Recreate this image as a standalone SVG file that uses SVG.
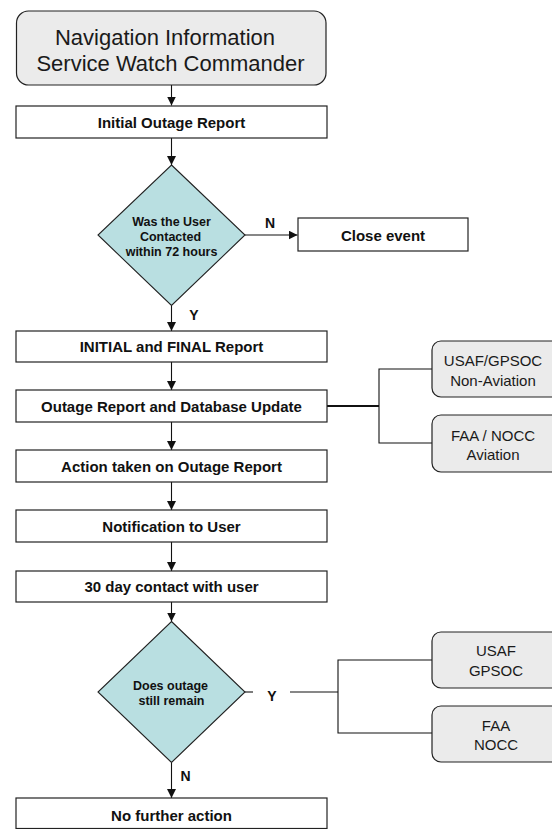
<svg xmlns="http://www.w3.org/2000/svg" width="552" height="829" viewBox="0 0 552 829">
<style>
  .box { fill: #ffffff; stroke: #222222; stroke-width: 1.2; }
  .gbox { fill: #ebebeb; stroke: #222222; stroke-width: 1.2; }
  .dia { fill: #b9dfe1; stroke: #222222; stroke-width: 1.1; }
  .bt { font-family: "Liberation Sans", Arial, sans-serif; font-weight: bold; font-size: 15px; fill: #111111; text-anchor: middle; }
  .dt { font-family: "Liberation Sans", Arial, sans-serif; font-weight: bold; font-size: 12.5px; fill: #111111; text-anchor: middle; }
  .gt { font-family: "Liberation Sans", Arial, sans-serif; font-size: 15px; fill: #1a1a1a; text-anchor: middle; }
  .tt { font-family: "Liberation Sans", Arial, sans-serif; font-size: 22px; fill: #1a1a1a; text-anchor: middle; }
  .lb { font-family: "Liberation Sans", Arial, sans-serif; font-weight: bold; font-size: 14px; fill: #111111; text-anchor: middle; }
  .ln { fill: none; stroke: #111111; stroke-width: 1.1; }
</style>
<defs>
  <marker id="ah" markerUnits="userSpaceOnUse" markerWidth="10" markerHeight="10" refX="9" refY="4.5" orient="auto">
    <path d="M0,0 L9,4.5 L0,9 z" fill="#111111"/>
  </marker>
</defs>

<g id="connectors">
  <line class="ln" x1="171.5" y1="85" x2="171.5" y2="105.5" marker-end="url(#ah)"/>
  <line class="ln" x1="171.5" y1="138" x2="171.5" y2="165" marker-end="url(#ah)"/>
  <line class="ln" x1="245" y1="235" x2="297.5" y2="235" marker-end="url(#ah)"/>
  <line class="ln" x1="171.5" y1="305.5" x2="171.5" y2="331" marker-end="url(#ah)"/>
  <line class="ln" x1="171.5" y1="362" x2="171.5" y2="390" marker-end="url(#ah)"/>
  <line class="ln" x1="171.5" y1="422" x2="171.5" y2="450" marker-end="url(#ah)"/>
  <line class="ln" x1="171.5" y1="482" x2="171.5" y2="510" marker-end="url(#ah)"/>
  <line class="ln" x1="171.5" y1="542" x2="171.5" y2="571" marker-end="url(#ah)"/>
  <line class="ln" x1="171.5" y1="602" x2="171.5" y2="621.5" marker-end="url(#ah)"/>
  <line class="ln" x1="171.5" y1="762.5" x2="171.5" y2="798" marker-end="url(#ah)"/>
  <line class="ln" x1="327" y1="406" x2="379" y2="406" style="stroke-width:2.2"/>
  <polyline class="ln" points="432,369 379,369 379,443 432,443"/>
  <line class="ln" x1="245" y1="692" x2="253" y2="692"/>
  <line class="ln" x1="290" y1="692" x2="338" y2="692"/>
  <polyline class="ln" points="432,660 338,660 338,733 432,733"/>
  <text class="lb" x="270" y="228">N</text>
  <text class="lb" x="194" y="320">Y</text>
  <text class="lb" x="272" y="701">Y</text>
  <text class="lb" x="185.5" y="781">N</text>
</g>

<g id="nisw">
  <rect class="gbox" x="16.5" y="11" width="309.5" height="74" rx="12"/>
  <text class="tt" x="165" y="45">Navigation Information</text>
  <text class="tt" x="170.5" y="71">Service Watch Commander</text>
</g>
<g id="initial-outage">
  <rect class="box" x="16" y="106" width="311" height="32"/>
  <text class="bt" x="171.5" y="128">Initial Outage Report</text>
</g>
<g id="decision-72h">
  <polygon class="dia" points="171.5,165 245,235 171.5,305.5 98,235"/>
  <text class="dt" x="171.5" y="225.5">Was the User</text>
  <text class="dt" x="170.5" y="240.5">Contacted</text>
  <text class="dt" x="171.5" y="255.5">within 72 hours</text>
</g>
<g id="close-event">
  <rect class="box" x="298" y="218" width="170" height="33"/>
  <text class="bt" x="383" y="241">Close event</text>
</g>
<g id="initial-final">
  <rect class="box" x="16" y="331" width="311" height="31"/>
  <text class="bt" x="171.5" y="352">INITIAL and FINAL Report</text>
</g>
<g id="outage-db">
  <rect class="box" x="16" y="390" width="311" height="32"/>
  <text class="bt" x="171.5" y="412">Outage Report and Database Update</text>
</g>
<g id="usaf-nonaviation">
  <rect class="gbox" x="432" y="341" width="132" height="56" rx="9"/>
  <text class="gt" x="493" y="366">USAF/GPSOC</text>
  <text class="gt" x="493" y="385.5">Non-Aviation</text>
</g>
<g id="faa-aviation">
  <rect class="gbox" x="432" y="415" width="132" height="57" rx="9"/>
  <text class="gt" x="493" y="440.5">FAA / NOCC</text>
  <text class="gt" x="493" y="459.5">Aviation</text>
</g>
<g id="action-taken">
  <rect class="box" x="16" y="450" width="311" height="32"/>
  <text class="bt" x="171.5" y="472">Action taken on Outage Report</text>
</g>
<g id="notification">
  <rect class="box" x="16" y="510" width="311" height="32"/>
  <text class="bt" x="171.5" y="532">Notification to User</text>
</g>
<g id="contact-30day">
  <rect class="box" x="16" y="571" width="311" height="31"/>
  <text class="bt" x="171.5" y="592">30 day contact with user</text>
</g>
<g id="decision-remain">
  <polygon class="dia" points="171.5,621.5 245,692 171.5,762.5 98,692"/>
  <text class="dt" x="170.5" y="689.5">Does outage</text>
  <text class="dt" x="171.5" y="704.5">still remain</text>
</g>
<g id="usaf-gpsoc">
  <rect class="gbox" x="432" y="632" width="132" height="56" rx="9"/>
  <text class="gt" x="496" y="656">USAF</text>
  <text class="gt" x="496" y="676">GPSOC</text>
</g>
<g id="faa-nocc">
  <rect class="gbox" x="432" y="706" width="132" height="56" rx="9"/>
  <text class="gt" x="496" y="730.5">FAA</text>
  <text class="gt" x="496" y="749.5">NOCC</text>
</g>
<g id="no-further">
  <rect class="box" x="16" y="798" width="311" height="30.5"/>
  <text class="bt" x="171.5" y="820.5">No further action</text>
</g>
</svg>
